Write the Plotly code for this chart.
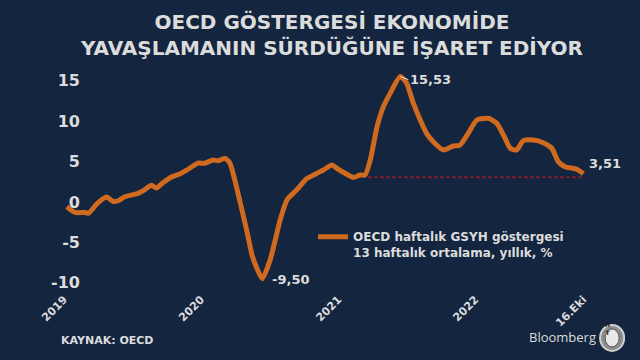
import plotly.graph_objects as go

# ---- data ----
dates = [
    "2019-01-08", "2019-01-30", "2019-02-26", "2019-03-07", "2019-03-29", "2019-04-24",
    "2019-05-12", "2019-05-25", "2019-06-12", "2019-07-17", "2019-07-31", "2019-08-22",
    "2019-09-04", "2019-09-22", "2019-10-14", "2019-11-05", "2019-11-27", "2019-12-24",
    "2020-01-11", "2020-02-02", "2020-02-15", "2020-03-05", "2020-03-18", "2020-03-31",
    "2020-04-14", "2020-05-02", "2020-05-16", "2020-05-26", "2020-06-12", "2020-07-03",
    "2020-07-30", "2020-08-17", "2020-09-12", "2020-10-09", "2020-11-05", "2020-11-22",
    "2020-12-15", "2020-12-28", "2021-01-19", "2021-02-10", "2021-02-28", "2021-03-13",
    "2021-03-27", "2021-04-14", "2021-05-01", "2021-05-19", "2021-06-15", "2021-07-02",
    "2021-07-20", "2021-08-11", "2021-08-24", "2021-09-11", "2021-10-08", "2021-11-03",
    "2021-11-21", "2021-12-13", "2022-01-05", "2022-02-05", "2022-02-27", "2022-03-17",
    "2022-04-04", "2022-04-21", "2022-05-09", "2022-06-05", "2022-07-01", "2022-07-24",
    "2022-08-10", "2022-08-28", "2022-09-28", "2022-10-16",
]
values = [
    -0.6, -1.3, -1.3, -1.4, -0.25, 0.6,
    0.05, 0.15, 0.65, 1.07, 1.4, 2.06,
    1.73, 2.4, 3.1, 3.47, 4.04, 4.8,
    4.8, 5.2, 5.1, 5.4, 4.8, 2.7,
    0.0, -3.6, -6.6, -7.9, -9.5, -7.2,
    -2.2, 0.25, 1.5, 2.9, 3.55, 3.96,
    4.58, 4.17, 3.55, 3.05, 3.34, 3.34,
    5.2, 9.3, 11.8, 13.45, 15.53, 14.7,
    12.2, 9.74, 8.5, 7.46, 6.44, 6.93,
    7.05, 8.5, 10.15, 10.36, 9.74, 8.3,
    6.65, 6.44, 7.6, 7.67, 7.34, 6.65,
    5.0, 4.37, 4.05, 3.51,
]
ref_dates = ["2021-03-22", "2022-10-16"]
ref_values = [3.05, 3.05]

tick_vals = ["2019-01-01", "2020-01-01", "2021-01-01", "2022-01-01", "2022-10-16"]
tick_text = ["2019", "2020", "2021", "2022", "16.Eki"]
y_ticks = [-10, -5, 0, 5, 10, 15]

series_name = "OECD haftalık GSYH göstergesi<br>13 haftalık ortalama, yıllık, %"
title_lines = ["OECD GÖSTERGESİ EKONOMİDE", "YAVAŞLAMANIN SÜRDÜĞÜNE İŞARET EDİYOR"]

BG = "#13253f"
TXT = "#dcdcdc"
ORANGE = "#cf6a1e"
FONT = "DejaVu Sans"


def fmt(v):
    return f"{v:.2f}".replace(".", ",")


fig = go.Figure()
fig.add_trace(go.Scatter(
    x=ref_dates, y=ref_values, mode="lines",
    line=dict(color="#9a1c2e", width=2, dash="dot"),
    showlegend=False, hoverinfo="skip",
))
fig.add_trace(go.Scatter(
    x=dates, y=values, mode="lines", name=series_name,
    line=dict(color=ORANGE, width=5, shape="spline", smoothing=0.6),
))

# value labels
i_max = values.index(max(values))
i_min = values.index(min(values))
fig.add_annotation(x=dates[i_max], y=values[i_max], text=fmt(values[i_max]),
                   showarrow=True, arrowhead=0, arrowwidth=1, arrowcolor=TXT,
                   ax=8, ay=3, xanchor="left", yanchor="middle",
                   font=dict(family=FONT, size=13, color=TXT, weight="bold"))
fig.add_annotation(x=dates[i_min], y=values[i_min], text=fmt(values[i_min]),
                   showarrow=False, xanchor="left", yanchor="middle", xshift=8, yshift=-1,
                   font=dict(family=FONT, size=13, color=TXT, weight="bold"))
fig.add_annotation(x=dates[-1], y=values[-1], text=fmt(values[-1]),
                   showarrow=False, xanchor="left", yanchor="middle", xshift=4, yshift=10,
                   font=dict(family=FONT, size=13, color=TXT, weight="bold"))

# title
fig.add_annotation(xref="paper", yref="paper", x=0.507, y=1.133, xanchor="center", yanchor="middle",
                   text="<br>".join(title_lines), showarrow=False, align="center",
                   font=dict(family=FONT, size=20, color=TXT, weight="bold"))

# footer
fig.add_annotation(xref="paper", yref="paper", x=-0.002, y=-0.226, xanchor="left", yanchor="middle",
                   text="KAYNAK: OECD", showarrow=False,
                   font=dict(family=FONT, size=11, color=TXT, weight="bold"))
fig.add_annotation(xref="paper", yref="paper", x=1.006, y=-0.209, xanchor="right", yanchor="middle",
                   text="Bloomberg", showarrow=False,
                   font=dict(family="Open Sans", size=13, color=TXT))
# HT logo
fig.add_shape(type="circle", xref="paper", yref="paper", xsizemode="pixel", ysizemode="pixel",
              xanchor=1.032, yanchor=-0.213, x0=-12, x1=12, y0=-13, y1=13,
              fillcolor="#8c8c8c", line=dict(color="#d0d0d0", width=2))
fig.add_shape(type="circle", xref="paper", yref="paper", xsizemode="pixel", ysizemode="pixel",
              xanchor=1.032, yanchor=-0.213, x0=-7, x1=7, y0=-9, y1=9,
              fillcolor="#e8e8e8", line=dict(color="#555", width=1))
fig.add_annotation(xref="paper", yref="paper", x=1.032, y=-0.213, text="H<br>T", showarrow=False,
                   font=dict(family=FONT, size=6, color="#222", weight="bold"))

fig.update_layout(
    width=640, height=360,
    paper_bgcolor=BG, plot_bgcolor=BG,
    margin=dict(l=60, r=45, t=65, b=70, autoexpand=False),
    font=dict(family=FONT, color=TXT),
    showlegend=True,
    legend=dict(x=0.473, y=0.30, xanchor="left", yanchor="top", bgcolor="rgba(0,0,0,0)",
                valign="top", itemwidth=30,
                font=dict(family=FONT, size=12, color=TXT, weight="bold")),
    xaxis=dict(range=["2018-12-21", "2022-11-16"], showgrid=False, zeroline=False,
               showline=False, tickvals=tick_vals, ticktext=tick_text, tickangle=-45,
               automargin=False,
               tickfont=dict(family=FONT, size=11, color=TXT, weight="bold")),
    yaxis=dict(range=[-10.9, 16.96], showgrid=False, zeroline=False, showline=False,
               tickvals=y_ticks, ticktext=[str(v) for v in y_ticks], automargin=False,
               ticklabelstandoff=-21,
               tickfont=dict(family=FONT, size=16, color=TXT, weight="bold")),
)

fig.write_html("out.html", config={"displayModeBar": False},
               post_script="document.body.style.margin='0';document.body.style.background='" + BG + "';")
